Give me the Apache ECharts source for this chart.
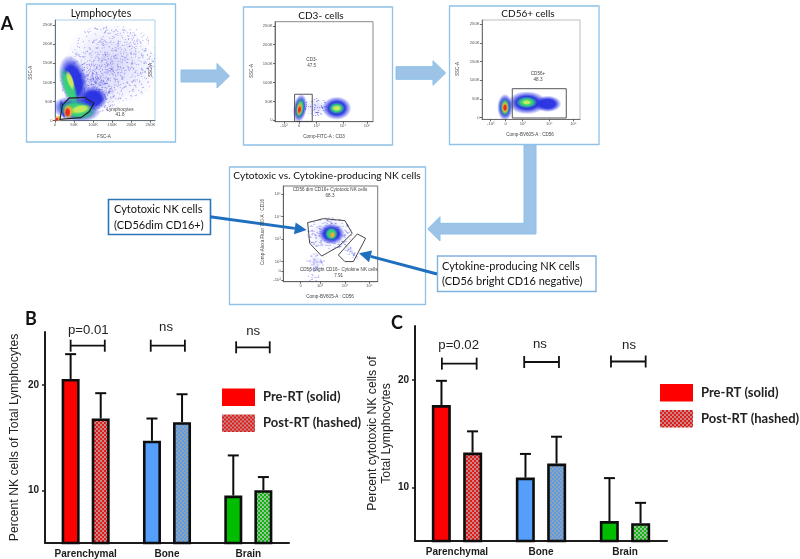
<!DOCTYPE html>
<html>
<head>
<meta charset="utf-8">
<style>html,body{margin:0;padding:0;background:#fff}#c{width:800px;height:559px}</style>
<script src="https://cdn.jsdelivr.net/npm/echarts@6/dist/echarts.min.js"></script>
</head>
<body>
<div id="c"></div>
<script>
// ---------- values ----------
const categories = ['Parenchymal', 'Bone', 'Brain'];
const preB  = [20.55, 14.7, 9.5];
const postB = [16.8, 16.45, 10.0];
const preErrB  = [22.9, 16.8, 13.3];
const postErrB = [19.2, 19.1, 11.25];
const preC  = [17.64, 10.9, 6.85];
const postC = [13.23, 12.2, 6.65];
const preErrC  = [19.9, 13.1, 10.85];
const postErrC = [15.2, 14.7, 8.55];
const bracketLabelsB = ['p=0.01', 'ns', 'ns'];
const bracketLabelsC = ['p=0.02', 'ns', 'ns'];
// category, from, to (band fractions), y value, label x (band fraction), label y value
const bracketsB = [[0,-0.185,0.235,23.7,0.033,25.2],[1,-0.2,0.22,23.7,-0.012,25.4],[2,-0.15,0.263,23.55,0.06,25.1]];
const bracketsC = [[0,-0.18,0.234,21.5,0.02,23.17],[1,-0.2,0.214,21.65,-0.012,23.33],[2,-0.167,0.246,21.7,0.048,23.2]];
const tickValues = [10, 20];
const kTicks = [0, 50, 100, 150, 200, 250];
const kLabels = ['0', '50K', '100K', '150K', '200K', '250K'];

// flow-plot density clouds: x, y, rx, ry, rotation(deg), kind
const blobsP1 = [
 [150,150,125,105,25,'haze'],[95,85,80,60,25,'haze'],
 [150,150,116,96,25,'speck'],[185,180,80,66,20,'speck'],[95,90,85,68,30,'speck'],[125,115,65,50,30,'speck'],[90,75,62,48,25,'speck2'],
 [48,105,36,68,-14,'blue'],[100,58,38,32,0,'blue'],[55,30,64,33,8,'blue'],
 [37,88,17,54,-20,'green'],[40,105,9,28,-18,'yellow'],[20,30,7,26,-12,'blue'],
 [58,28,50,26,8,'green'],[66,30,28,12,-12,'yellow'],[35,24,14,19,0,'orange'],[33,22,8,13,0,'red'],[8,5,9,9,0,'orange'],[5,3,5,5,0,'red']
];
const blobsP2 = [
 [42,35,13,24,0,'haze'],[42,35,12,24,0,'speck2'],[25.5,32,7,38,8,'blue'],[25.5,32,4.6,28,8,'green'],[25,30,3,19,8,'orange'],[25,28,1.8,11,5,'red'],
 [63,32,15,31,0,'blue'],[63,32,8.5,16,0,'green'],[63,32,5,8,0,'yellow']
];
const blobsP3 = [
 [23.5,28,8,36,0,'blue'],[23.5,28,5.2,25,0,'green'],[23.5,27,3.6,18,0,'orange'],[23.5,27,2.2,10,0,'red'],
 [67,37,14,22,0,'blue'],[46,40,20,31,0,'blue'],[45.6,41,11,16,0,'green'],[45.6,41,5,7,0,'yellow']
];
const blobsP4 = [
 [49,50,24,17,0,'speck2'],[49,50,24,17,0,'haze'],[51,50,14,11,0,'blue'],[51,50,7,7,0,'green'],[52,49,3,3.5,0,'orange'],
 [70.6,33,13,5,45,'speck2'],[70.6,33,9,3.5,45,'haze'],[34,21,10,9,0,'speck2'],[32,5,6,9,0,'speck2'],[34,21,8,7,0,'haze']
];
// gates
const gateP1 = [[13,3.4],[19.5,41],[37,59],[77,61],[102,46],[90,24],[68,8]];
const gateP2 = [[20,-3],[38,-3],[38,69],[20,69]];
const gateP3 = [[30.9,-0.8],[86,-0.8],[86,77.6],[30.9,77.6]];
const gateP4a = [[25.8,61.7],[42.4,65.9],[65.3,63.8],[73,50.5],[58.3,36.6],[40.6,26.8],[28,40.1]];
const gateP4b = [[58.3,27.9],[78.4,49.9],[87.2,45.3],[74.2,21],[65.3,21]];
// biexponential axis ticks of the flow plots
const ticksP2x = [9.2,24.5,42.5,69.4,93.9];
const ticksP3x = [8.9,24.2,41.5,68.7,93.2];
const ticksP4x = [18.4,38.9,65.4,91.2];
const ticksP4y = [1.8,11.4,20.9,44.6,67.9,91.3];
const biexLabels = ['-10³','0','10³','10⁴','10⁵'];
const ticksP4xLabels = ['0','10³','10⁴','10⁵'];
const ticksP4yLabels = ['-10²','0','10²','10³','10⁴','10⁵'];

// ---------- textures ----------
function checker(a, b) {
  const c = document.createElement('canvas'); c.width = c.height = 4;
  const g = c.getContext('2d');
  g.fillStyle = a; g.fillRect(0,0,4,4);
  g.fillStyle = b; g.fillRect(0,0,2,2); g.fillRect(2,2,2,2);
  return {image: c, repeat: 'repeat'};
}
function speckle(n, col) {
  const c = document.createElement('canvas'); c.width = c.height = 128;
  const g = c.getContext('2d'); g.fillStyle = col;
  const h = v => { const s = Math.sin(v)*43758.5453; return s-Math.floor(s); };
  for (let i = 1; i <= n; i++) g.fillRect(Math.floor(h(i*12.9898)*128), Math.floor(h(i*78.233)*128), 1, 1);
  return {image: c, repeat: 'repeat'};
}
const HATCH_RED = checker('#dd1c1c', '#cc8585');
const HATCH_BLUE = checker('#5f9be0', '#8fa3b8');
const HATCH_GREEN = checker('#12b312', '#97c497');
const SPECK = speckle(1300, 'rgba(85,85,225,0.5)');
const SPECK2 = speckle(2600, 'rgba(70,70,225,0.6)');
function radial(c) {
  return {type:'radial',x:0.5,y:0.5,r:0.5,colorStops:[{offset:0,color:c},{offset:0.55,color:c},{offset:1,color:c.replace(/[\d.]+\)$/,'0)')}]};
}
const FILL = {
  speck: SPECK, speck2: SPECK2,
  haze: {type:'radial',x:0.5,y:0.5,r:0.5,colorStops:[{offset:0,color:'rgba(100,100,235,0.26)'},{offset:1,color:'rgba(100,100,235,0)'}]},
  blue: radial('rgba(35,45,225,0.95)'),
  green: radial('rgba(55,215,120,0.95)'),
  yellow: radial('rgba(205,235,90,0.95)'),
  orange: radial('rgba(245,170,50,0.95)'),
  red: radial('rgba(235,35,35,0.95)')
};

// ---------- helpers ----------
const INK = '#1c1c1c';
const ARIAL = '"Liberation Sans", Arial, sans-serif';
const LATO = 'Lato, "Noto Sans", sans-serif';

function barAxes(gridIndex) {
  return {
    x: {type:'category', gridIndex, data:categories,
      axisLine:{lineStyle:{color:INK,width:2}}, axisTick:{alignWithLabel:true,length:3,lineStyle:{color:INK,width:1.5}},
      axisLabel:{fontFamily:ARIAL,fontWeight:'bold',fontSize:10,color:INK,margin:6}},
    y: {type:'value', gridIndex, min:5, max:25, splitLine:{show:false},
      axisLine:{show:true,onZero:false,lineStyle:{color:INK,width:2}},
      axisTick:{show:true,length:3,customValues:tickValues,lineStyle:{color:INK,width:1.5}},
      axisLabel:{customValues:tickValues,fontFamily:ARIAL,fontWeight:'bold',fontSize:10,color:INK,margin:6},
      nameLocation:'middle',nameRotate:90,nameTextStyle:{fontFamily:ARIAL,fontSize:12.2,color:'#222',lineHeight:14}}
  };
}
function bars(name, values, fills, idx, w, gap) {
  return {type:'bar', name, xAxisIndex:idx, yAxisIndex:idx, barWidth:w, barGap:gap, z:2, silent:true,
    itemStyle:{color:fills[0], borderColor:'#0d0d0d', borderWidth:2.6},
    data: values.map((v,i)=>({value:v,itemStyle:{color:fills[i]}}))};
}
function errs(values, tops, sign, idx) {
  return {type:'custom', xAxisIndex:idx, yAxisIndex:idx, z:3, silent:true,
    data: values.map((v,i)=>[i,v,tops[i]]),
    encode:{x:0,y:[1,2]},
    renderItem(p,api){
      const bw = api.size([1,0])[0], off = sign*bw*0.185;
      const a = api.coord([api.value(0),api.value(1)]), b = api.coord([api.value(0),api.value(2)]);
      const x = a[0]+off, st = {stroke:'#0d0d0d',lineWidth:2};
      return {type:'group',children:[
        {type:'line',shape:{x1:x,y1:a[1],x2:x,y2:b[1]},style:st},
        {type:'line',shape:{x1:x-5.5,y1:b[1],x2:x+5.5,y2:b[1]},style:st}]};
    }};
}
function brackets(rows, labels, idx) {
  return {type:'custom', xAxisIndex:idx, yAxisIndex:idx, z:4, silent:true, clip:false,
    data: rows, encode:{x:0,y:3},
    renderItem(p,api){
      const r = rows[p.dataIndex], bw = api.size([1,0])[0];
      const c = api.coord([r[0],r[3]]), l = api.coord([r[0],r[5]]);
      const x1 = c[0]+r[1]*bw, x2 = c[0]+r[2]*bw, y = c[1], st = {stroke:'#111',lineWidth:1.8};
      return {type:'group',children:[
        {type:'line',shape:{x1,y1:y,x2,y2:y},style:st},
        {type:'line',shape:{x1,y1:y-6,x2:x1,y2:y+6},style:st},
        {type:'line',shape:{x1:x2,y1:y-6,x2,y2:y+6},style:st},
        {type:'text',x:l[0]+r[4]*bw,y:l[1],style:{text:labels[p.dataIndex],font:'13.2px '+ARIAL,fill:'#222',align:'center',verticalAlign:'middle'}}]};
    }};
}
function flowAxes(gridIndex, xMin, xMax, yMin, yMax, xT, xL, yT, yL) {
  const ax = (ticks, labs, min, max) => ({type:'value', gridIndex, min, max, splitLine:{show:false},
    axisLine:{show:true,onZero:false,lineStyle:{color:'#555',width:0.8}},
    axisTick:{show:true,length:2,customValues:ticks,lineStyle:{color:'#444',width:0.8}},
    axisLabel:{customValues:ticks,fontSize:4.2,fontFamily:ARIAL,color:'#555',margin:2.5,
      formatter:v=>labs[ticks.indexOf(v)]}});
  return {x:ax(xT,xL,xMin,xMax), y:ax(yT,yL,yMin,yMax)};
}
function cloud(rows, idx) {
  return {type:'custom', xAxisIndex:idx, yAxisIndex:idx, z:2, silent:true, clip:true,
    data: rows.map(r=>r.slice(0,5)), encode:{x:0,y:1},
    renderItem(p,api){
      const r = rows[p.dataIndex], c = api.coord([r[0],r[1]]), s = api.size([r[2],r[3]]);
      const rot = -r[4]*Math.PI/180;
      if (r[5].indexOf('speck') === 0)
        return {type:'ellipse',x:c[0],y:c[1],rotation:rot,shape:{cx:0,cy:0,rx:s[0],ry:s[1]},style:{fill:FILL[r[5]]}};
      return {type:'circle',x:c[0],y:c[1],rotation:rot,scaleX:s[0]/50,scaleY:s[1]/50,
        shape:{cx:0,cy:0,r:50},style:{fill:FILL[r[5]]}};
    }};
}
function gate(points, idx, col, w) {
  return {type:'custom', xAxisIndex:idx, yAxisIndex:idx, z:3, silent:true, clip:false,
    data:[points[0]], encode:{x:0,y:1},
    renderItem(p,api){
      return {type:'polygon',shape:{points:points.map(q=>api.coord(q))},style:{fill:'none',stroke:col,lineWidth:w}};
    }};
}

// ---------- graphics: frames, arrows, captions ----------
const FRAME = '#8fc2e6', ARROW = '#9dc3e6', ARROW_E = '#8cc0ea', DEEP = '#1f6fbf';
const frame = (x,y,w,h)=>({type:'rect',shape:{x,y,width:w,height:h},style:{fill:'none',stroke:FRAME,lineWidth:1.3},z:1});
const txt = (x,y,text,font,fill,align,extra)=>Object.assign({type:'text',x,y,z:6,style:{text,font,fill:fill||'#111',align:align||'center',verticalAlign:'middle'}},extra||{});
const small = (x,y,t,extra)=>txt(x,y,t,'4.6px '+ARIAL,'#444','center',extra);
const poly = pts=>({type:'polygon',shape:{points:pts},style:{fill:ARROW,stroke:ARROW_E,lineWidth:1},z:1});
function thin(x1,y1,x2,y2){
  const a = Math.atan2(y2-y1,x2-x1), L=12, W=6;
  const bx = x2-L*Math.cos(a), by = y2-L*Math.sin(a), nx=-Math.sin(a)*W, ny=Math.cos(a)*W;
  return [{type:'line',z:5,shape:{x1,y1,x2:bx,y2:by},style:{stroke:DEEP,lineWidth:3}},
          {type:'polygon',z:5,shape:{points:[[x2,y2],[bx+nx,by+ny],[bx-nx,by-ny]]},style:{fill:DEEP}}];
}
const graphics = [
  txt(7,24,'A','bold 18px '+LATO,'#111'), txt(31,319,'B','bold 18px '+LATO,'#111'), txt(397,323,'C','bold 18px '+LATO,'#111'),
  frame(26.5,4,149,138), frame(243.5,7,149,138), frame(449.5,6,149.5,138.5), frame(229.5,167,196,137.5),
  txt(101,13.5,'Lymphocytes','10.5px '+LATO), txt(321,15.7,'CD3- cells','10px '+LATO),
  txt(528,13.5,'CD56+ cells','10px '+LATO), txt(327,176,'Cytotoxic vs. Cytokine-producing NK cells','10.2px '+LATO),
  poly([[181,70],[217,70],[217,63.5],[229.5,76],[217,88],[217,82],[181,82]]),
  poly([[396,66.7],[433,66.7],[433,60.7],[445.7,73],[433,85.3],[433,79.3],[396,79.3]]),
  poly([[524,144.8],[536,144.8],[536,234],[440,234],[440,241],[427.7,229],[440,216.7],[440,223.3],[524,223.3]]),
  {type:'rect',z:4,shape:{x:108.5,y:199.5,width:102,height:35},style:{fill:'#fff',stroke:'#2e75b6',lineWidth:1.6}},
  txt(114,209,'Cytotoxic NK cells','11px '+LATO,'#111','left'), txt(114,225,'(CD56dim CD16+)','11px '+LATO,'#111','left'),
  {type:'rect',z:4,shape:{x:437.5,y:256,width:158.5,height:35.5},style:{fill:'#fff',stroke:'#7fb2de',lineWidth:1.4}},
  txt(442,266,'Cytokine-producing NK cells','11px '+LATO,'#111','left'), txt(442,281.7,'(CD56 bright CD16 negative)','11px '+LATO,'#111','left'),
  ...thin(210,216.7,306.7,230), ...thin(437,274,359,253.3),
  // flow-plot captions
  small(104,137,'FSC-A'), small(30.7,72.7,'SSC-A',{rotation:Math.PI/2}), small(151,70,'SSC-A',{rotation:Math.PI/2}),
  small(120,109.5,'Lymphocytes'), small(120,115,'41.8'),
  small(324,137,'Comp-FITC-A : CD3'), small(251.5,71,'SSC-A',{rotation:Math.PI/2}), small(311.7,60,'CD3-'), small(311.7,66,'47.5'),
  small(530,135,'Comp-BV605-A : CD56'), small(457.5,69,'SSC-A',{rotation:Math.PI/2}), small(538,73.7,'CD56+'), small(538,79.5,'48.3'),
  small(330,190,'CD56 dim CD16+ Cytotoxic NK cells'), small(330,196,'68.3'),
  small(338.7,270,'CD56 bright CD16− Cytokine NK cells'), small(338.7,275.5,'7.91'),
  small(330,297,'Comp-BV605-A : CD56'), small(263,232,'Comp-Alexa Fluor 700-A : CD16',{rotation:Math.PI/2})
];

// ---------- option ----------
const B = barAxes(0), C = barAxes(1);
B.y.name = 'Percent NK cells of Total Lymphocytes'; B.y.nameGap = 23;
C.y.name = 'Percent cytotoxic NK cells of\nTotal Lymphocytes'; C.y.nameGap = 21;
const P1 = flowAxes(2,0,262,0,263,kTicks,kLabels,kTicks,kLabels);
const P2 = flowAxes(3,0,100,-3.7,261,ticksP2x,biexLabels,kTicks,kLabels);
const P3 = flowAxes(4,0,100,-4.3,261.5,ticksP3x,biexLabels,kTicks,kLabels);
const P4 = flowAxes(5,0,100,0,100,ticksP4x,ticksP4xLabels,ticksP4y,ticksP4yLabels);

const fillPre = ['#ff0000','#559ffb','#00bd00'];
const fillPost = [HATCH_RED,HATCH_BLUE,HATCH_GREEN];
const PRE = 'Pre-RT (solid)', POST = 'Post-RT (hashed)';
const legendText = {fontFamily:LATO,fontWeight:'bold',fontSize:13,color:'#222',padding:[0,0,0,3]};
const legend = (left,top)=>({left,top,orient:'vertical',itemWidth:33,itemHeight:17.5,itemGap:8.5,selectedMode:false,
  itemStyle:{borderWidth:0},data:[PRE,POST],textStyle:legendText,icon:'rect',padding:0});
const plotBox = (c,w)=>({show:true,borderColor:c,borderWidth:w||1,backgroundColor:'#fff'});

const option = {
  animation:false, backgroundColor:'#fff',
  legend:[legend(222,388.5),legend(660,384)],
  grid:[
    {left:45,top:332,width:244,height:211},
    {left:415,top:326,width:252,height:215},
    Object.assign({left:55,top:20,width:100,height:100.7},plotBox('#a8d0ea')),
    Object.assign({left:275,top:21.7,width:98,height:100},plotBox('#8a8a8a')),
    Object.assign({left:482,top:20,width:98,height:99.3},plotBox('#bdbdbd')),
    Object.assign({left:283.3,top:186,width:94.4,height:95.7},plotBox('#777'))
  ],
  xAxis:[B.x,C.x,P1.x,P2.x,P3.x,P4.x],
  yAxis:[B.y,C.y,P1.y,P2.y,P3.y,P4.y],
  graphic:{elements:graphics},
  series:[
    bars(PRE,preB,fillPre,0,18,'67%'), bars(POST,postB,fillPost,0,18,'67%'),
    errs(preB,preErrB,-1,0), errs(postB,postErrB,1,0), brackets(bracketsB,bracketLabelsB,0),
    bars(PRE,preC,fillPre,1,19,'65%'), bars(POST,postC,fillPost,1,19,'65%'),
    errs(preC,preErrC,-1,1), errs(postC,postErrC,1,1), brackets(bracketsC,bracketLabelsC,1),
    cloud(blobsP1,2), gate(gateP1,2,'#222',1.1),
    cloud(blobsP2,3), gate(gateP2,3,'#444',0.9),
    cloud(blobsP3,4), gate(gateP3,4,'#444',0.9),
    cloud(blobsP4,5), gate(gateP4a,5,'#333',0.9), gate(gateP4b,5,'#333',0.9)
  ]
};
const chart = echarts.init(document.getElementById('c'),null,{renderer:'canvas'});
chart.setOption(option);
</script>
</body>
</html>
